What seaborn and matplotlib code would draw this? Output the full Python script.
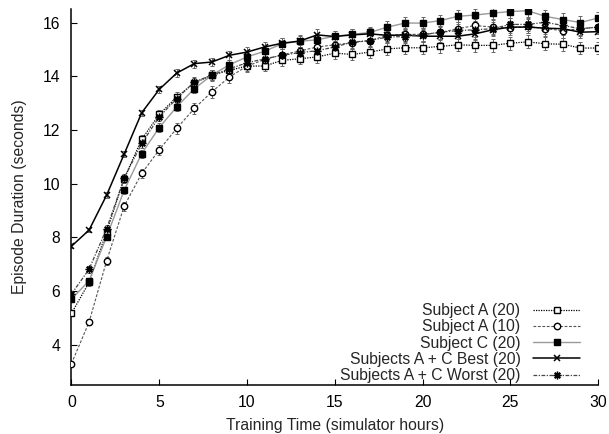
import matplotlib
matplotlib.use("Agg")
import matplotlib.pyplot as plt
import seaborn as sns
import pandas as pd

hours = list(range(31))

a20 = [5.17, 6.32, 8.21, 10.19, 11.65, 12.58, 13.23, 13.75, 14.04, 14.22, 14.38,
       14.38, 14.59, 14.65, 14.72, 14.86, 14.81, 14.90, 15.02, 15.06, 15.06,
       15.11, 15.17, 15.15, 15.15, 15.23, 15.28, 15.21, 15.19, 15.05, 15.05]
a10 = [3.30, 4.84, 7.12, 9.16, 10.38, 11.26, 12.06, 12.80, 13.42, 13.97, 14.38,
       14.62, 14.80, 14.94, 15.09, 15.17, 15.25, 15.33, 15.52, 15.56, 15.56,
       15.63, 15.77, 15.89, 15.83, 15.80, 15.86, 15.77, 15.70, 15.77, 15.83]
c20 = [5.70, 6.38, 8.02, 9.75, 11.12, 12.09, 12.86, 13.54, 14.04, 14.43, 14.72,
       14.93, 15.21, 15.30, 15.36, 15.49, 15.56, 15.63, 15.83, 15.98, 15.98,
       16.07, 16.23, 16.28, 16.35, 16.41, 16.44, 16.23, 16.11, 16.00, 16.17]
best = [7.67, 8.27, 9.57, 11.10, 12.64, 13.51, 14.12, 14.47, 14.53, 14.78, 14.90,
        15.09, 15.23, 15.31, 15.54, 15.48, 15.54, 15.58, 15.52, 15.54, 15.49,
        15.49, 15.49, 15.58, 15.73, 15.83, 15.83, 15.79, 15.77, 15.64, 15.66]
worst = [5.89, 6.81, 8.32, 10.20, 11.50, 12.49, 13.17, 13.79, 14.04, 14.28, 14.50,
         14.65, 14.78, 14.88, 14.95, 15.09, 15.27, 15.33, 15.46, 15.48, 15.54,
         15.64, 15.70, 15.73, 15.77, 15.93, 15.93, 16.01, 15.89, 15.77, 15.83]

a20_err = [0.10, 0.12, 0.14, 0.15, 0.16, 0.17, 0.18, 0.18, 0.19, 0.20, 0.20,
           0.20, 0.21, 0.21, 0.21, 0.22, 0.22, 0.22, 0.22, 0.22, 0.23,
           0.23, 0.23, 0.23, 0.23, 0.24, 0.24, 0.24, 0.24, 0.24, 0.24]
a10_err = [0.10, 0.12, 0.15, 0.17, 0.18, 0.19, 0.20, 0.21, 0.22, 0.22, 0.22,
           0.23, 0.23, 0.23, 0.24, 0.24, 0.24, 0.25, 0.25, 0.25, 0.25,
           0.25, 0.26, 0.26, 0.26, 0.26, 0.26, 0.26, 0.26, 0.26, 0.26]
c20_err = [0.10, 0.11, 0.13, 0.14, 0.15, 0.16, 0.17, 0.18, 0.18, 0.19, 0.19,
           0.20, 0.20, 0.20, 0.21, 0.21, 0.21, 0.21, 0.22, 0.22, 0.22,
           0.22, 0.22, 0.22, 0.23, 0.23, 0.23, 0.23, 0.23, 0.23, 0.23]
best_err = [0.08, 0.09, 0.10, 0.11, 0.12, 0.13, 0.14, 0.15, 0.16, 0.17, 0.18,
            0.19, 0.20, 0.21, 0.22, 0.22, 0.22, 0.22, 0.22, 0.22, 0.22,
            0.22, 0.22, 0.22, 0.22, 0.22, 0.22, 0.22, 0.22, 0.22, 0.22]
worst_err = [0.10, 0.12, 0.14, 0.15, 0.16, 0.17, 0.18, 0.19, 0.20, 0.20, 0.21,
             0.21, 0.22, 0.22, 0.22, 0.23, 0.23, 0.23, 0.24, 0.24, 0.24,
             0.24, 0.25, 0.25, 0.25, 0.25, 0.25, 0.25, 0.25, 0.25, 0.25]

labels = ["Subject A (20)", "Subject A (10)", "Subject C (20)",
          "Subjects A + C Best (20)", "Subjects A + C Worst (20)"]
x_ticks = [0, 5, 10, 15, 20, 25, 30]
y_ticks = [4, 6, 8, 10, 12, 14, 16]

FS = 11.3

sns.set_theme(style="ticks")
plt.rcParams["font.family"] = ["Liberation Sans", "DejaVu Sans"]
plt.rcParams["font.size"] = FS

fig = plt.figure(figsize=(6.09, 4.34), dpi=100)
ax = fig.add_axes([0.1174, 0.1129, 0.8646, 0.8661])

styles = [
    dict(color="black", linestyle=(0, (1, 1)), lw=0.9, marker="s", ms=4.6,
         mfc="white", mec="black", mew=1.0),
    dict(color="#555555", linestyle=(0, (2.5, 1.5)), lw=0.8, marker="o", ms=4.6,
         mfc="white", mec="black", mew=1.0),
    dict(color="#999999", linestyle="-", lw=1.0, marker="s", ms=4.6,
         mfc="black", mec="black", mew=1.0),
    dict(color="black", linestyle="-", lw=1.1, marker="x", ms=4.6,
         mec="black", mew=1.1),
    dict(color="#444444", linestyle=(0, (3, 1.2, 1, 1.2)), lw=0.9, marker=(8, 2, 0), ms=5.5,
         mec="black", mew=1.0),
]
series = [a20, a10, c20, best, worst]
errs = [a20_err, a10_err, c20_err, best_err, worst_err]

for vals, err, lab, st in zip(series, errs, labels, styles):
    df = pd.DataFrame({"hours": hours, "dur": vals})
    ax.errorbar(df["hours"], df["dur"], yerr=err, fmt="none", ecolor="#666666",
                elinewidth=0.7, capsize=1.2, capthick=0.7, zorder=2)
    sns.lineplot(data=df, x="hours", y="dur", ax=ax, label=lab, zorder=3, **st)

ax.set_xlim(0, 30)
ax.set_ylim(2.5, 16.5)
ax.set_xticks(x_ticks)
ax.set_yticks(y_ticks)
ax.set_xticklabels([str(t) for t in x_ticks])
ax.set_yticklabels([str(t) for t in y_ticks])
for s in ["top", "right"]:
    ax.spines[s].set_visible(False)
for s in ["left", "bottom"]:
    ax.spines[s].set_linewidth(1.1)
    ax.spines[s].set_color("black")
ax.tick_params(axis="both", direction="in", length=4, width=0.8, colors="black",
               labelsize=FS)
ax.tick_params(axis="x", pad=7)
ax.tick_params(axis="y", pad=8)
ax.set_xlabel("Training Time (simulator hours)", fontsize=FS, labelpad=6)
ax.set_ylabel("Episode Duration (seconds)", fontsize=FS, labelpad=11)
ax.grid(False)

leg = ax.legend(loc="lower right", bbox_to_anchor=(0.966, 0.005), frameon=False,
                markerfirst=False, handlelength=3.0, handletextpad=0.8,
                labelspacing=0.08, borderpad=0, borderaxespad=0, fontsize=FS)

fig.savefig("out.png", dpi=100)
